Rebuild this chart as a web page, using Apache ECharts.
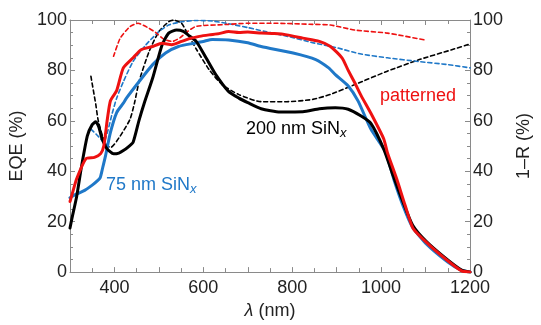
<!DOCTYPE html>
<html><head><meta charset="utf-8">
<script src="https://cdn.jsdelivr.net/npm/echarts@6/dist/echarts.min.js"></script>
<style>html,body{margin:0;padding:0;background:#fff}#c{width:541px;height:325px}</style>
</head><body><div id="c"></div>
<script>
// ---- data (wavelength nm, percent) ----
const wl200  = [300,304,315,326,339,350,358,365,372,383,398,410,420,432,442,455,467,486,507,522,540,555,566,584,606,628,656,680,700,730,773,824,861,897,926,955,977,1006,1027,1049,1071,1102,1145,1180,1200];
const eqe200 = [17.5,21,30,42,54,58.5,59.6,57.5,53,49,46.9,47.2,48.2,49.8,51.5,60,67,77,90,94.8,96,95.5,94,91.5,85,78.3,71.8,69,67.2,64.8,63.5,63.6,64.8,65.2,64.6,61.9,59,48.8,38.3,27.9,18.6,12.1,5.5,0.9,0];

const wlPat  = [300,305,315,336,355,369,376,384,391,405,420,442,460,486,507,529,551,573,591,613,635,657,680,700,730,760,788,824,861,886,912,926,941,955,977,1006,1014,1035,1054,1072,1108,1152,1181,1200];
const eqePat = [28,31,37,45,45.5,47,50,60.6,68,72,81,85,88.2,89.5,90.8,90.2,91.5,92.8,93.5,94.1,94.6,95.4,95,95.2,94.8,94.6,94.1,92.8,91.5,89.5,85,80,75,70,63,52.8,47.5,37,26.5,17.3,10.8,4.2,0.5,0];

const wl75   = [300,315,333,350,362,368,373,380,391,405,420,427,456,486,515,544,580,600,620,657,700,730,802,853,882,897,926,948,977,1010,1030,1050,1070,1100,1150,1180,1200];
const eqe75  = [29.5,31,32.4,34.5,36.3,37.5,41,46.2,55.4,63.3,67,69,75.7,82.3,86.9,89.5,90.8,91.5,92.3,92.1,91,89.5,86.9,84.3,81,78.3,73.8,67.9,56.7,47.6,36,26,18,11.5,4,0.8,0];

const wlR200 = [347,358,363,373,384,392,413,435,445,456,478,500,522,533,551,566,584,613,642,679,730,788,846,886,941,1014,1086,1159,1200];
const r200   = [77.7,66.5,60.6,54,50,49.5,54,60.6,67,76,87.5,95.4,99.3,100,98.7,94.1,88.5,80.3,74.4,70.5,67.6,67.6,68.5,70.5,74.4,79.7,84.3,88.2,90.5];

const wlRPat = [398,413,435,453,478,493,510,530,548,565,584,650,700,766,839,886,941,1014,1101];
const rPat   = [85.6,92.8,97.4,98.7,96.7,95,92.5,91.5,93,95.5,97.5,98.2,98.7,98.7,98.3,98,96,94.8,92];

const wlR75  = [347,360,369,376,385,395,405,420,442,471,500,522,551,584,620,657,700,737,790,846,900,955,1014,1086,1150,1200];
const r75    = [56.7,54.5,52.8,51.5,56,63,69,75.5,83.6,90.2,95.4,98,99.3,99.8,99.6,98.5,97,95.5,93.5,91,89,86.5,85,83.5,82.3,81];

const xTicksShown = [400,600,800,1000,1200];

// ---- chart ----
const zip = (a,b) => a.map((v,i)=>[v,b[i]]);
const FONT = 'Liberation Sans, Arial, Helvetica, sans-serif';
const RED = '#ee1111', BLUE = '#1f78c8', BLACK = '#000000', AX = '#8a8a8a';
const chart = echarts.init(document.getElementById('c'), null, {renderer:'canvas'});

function xAxisCfg(pos, showLabel){
  return {
    type:'value', position:pos, min:300, max:1200, interval:100,
    axisLine:{show:true, onZero:false, lineStyle:{color:AX, width:1}},
    axisTick:{show:true, inside:true, length:5, lineStyle:{color:AX}},
    minorTick:{show:true, splitNumber:2, length:4, lineStyle:{color:AX}},
    splitLine:{show:false},
    axisLabel:{show:showLabel, color:'#222', fontSize:18, fontFamily:FONT, margin:7,
      formatter:v => xTicksShown.includes(v) ? String(v) : ''},
  };
}
function yAxisCfg(pos, gap){
  return {
    type:'value', position:pos, min:0, max:100, interval:20,
    axisLine:{show:true, onZero:false, lineStyle:{color:AX, width:1}},
    axisTick:{show:true, inside:true, length:5, lineStyle:{color:AX}},
    minorTick:{show:true, splitNumber:4, length:3, lineStyle:{color:AX}},
    splitLine:{show:false},
    axisLabel:{show:true, color:'#222', fontSize:18, fontFamily:FONT, margin:3},
    nameLocation:'middle', nameRotate:90, nameGap:gap,
    nameTextStyle:{color:'#222', fontSize:18, fontFamily:FONT},
  };
}
const xb = xAxisCfg('bottom', true);
xb.name = '{i|λ} (nm)'; xb.nameLocation='middle'; xb.nameGap=27;
xb.nameTextStyle = {color:'#222', fontSize:18, fontFamily:FONT, rich:{i:{fontStyle:'italic', fontSize:18, fontFamily:FONT, color:'#222'}}};
const yl = yAxisCfg('left', 37); yl.name='EQE (%)';
const yr = yAxisCfg('right', 45); yr.name='1\u2013R (%)';

function line(data, color, dashed, z){
  return {type:'line', data, xAxisIndex:0, yAxisIndex:0, showSymbol:false, symbol:'none',
    smooth:0.2, z,
    lineStyle:{color, width: dashed?1.6:3, type: dashed?[4,3]:'solid', join:'round', cap:'round'}, silent:true, animation:false};
}

const rich = (c) => ({
  n:{fontSize:18, fontFamily:FONT, fill:c, lineHeight:22},
  s:{fontSize:13, fontFamily:FONT, fontStyle:'italic', fill:c, lineHeight:10, verticalAlign:'bottom'}
});

chart.setOption({
  animation:false,
  grid:{left:70, right:59, top:20, bottom:51, containLabel:false},
  xAxis:[xb, xAxisCfg('top', false)],
  yAxis:[yl, yr],
  series:[
    line(zip(wlR200,r200), BLACK, true, 2),
    line(zip(wlR75,r75), BLUE, true, 2),
    line(zip(wlRPat,rPat), RED, true, 2),
    line(zip(wl75,eqe75), BLUE, false, 3),
    line(zip(wl200,eqe200), BLACK, false, 4),
    line(zip(wlPat,eqePat), RED, false, 5),
  ],
  graphic:[
    {type:'text', left:380, top:87, z:10, style:{text:'patterned', fill:RED, font:'18px '+FONT}},
    {type:'text', left:246, top:120, z:10, style:{text:'{n|200 nm SiN}{s|x}', rich:rich(BLACK), font:'18px '+FONT}},
    {type:'text', left:106, top:176, z:10, style:{text:'{n|75 nm SiN}{s|x}', rich:rich(BLUE), font:'18px '+FONT}},
  ]
});
</script></body></html>
